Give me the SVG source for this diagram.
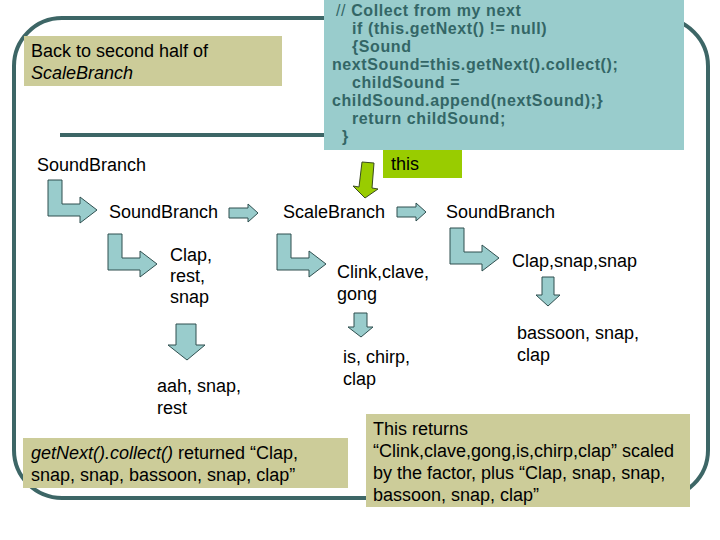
<svg xmlns="http://www.w3.org/2000/svg" width="720" height="540" viewBox="0 0 720 540">
<style>
text{font-family:"Liberation Sans",Arial,sans-serif;font-size:18px;fill:#000}
.code{font-weight:bold;font-size:16px;letter-spacing:0.6px;fill:#336666}
.frame{fill:none;stroke:#3d6666;stroke-width:4}
.arr{fill:#99cccc;stroke:#2f4f4f;stroke-width:1}
.garr{fill:#99cc00;stroke:#3a4a20;stroke-width:1}
.tan{fill:#cccc99}
</style>
<defs>
<polygon id="larrow" points="0,0 14,0 14,24 32,24 32,17 49,30 32,43 32,36 0,36"/>
<polygon id="rarrow" points="0,-5 19,-5 19,-9 29,0 19,9 19,5 0,5"/>
</defs>
<g id="frame">
<rect class="frame" x="14" y="18" width="694" height="480" rx="48" ry="48"/>
<line class="frame" x1="60" y1="135" x2="326" y2="135"/>
</g>
<g id="code-box">
<rect x="324" y="0" width="360" height="150" fill="#99cccc"/>
<text class="code" x="336" y="16"><tspan font-weight="normal">//</tspan> Collect from my next</text>
<text class="code" x="352" y="34">if (this.getNext() != null)</text>
<text class="code" x="352" y="52">{Sound</text>
<text class="code" x="332" y="70">nextSound=this.getNext().collect();</text>
<text class="code" x="352" y="88">childSound =</text>
<text class="code" x="332" y="106">childSound.append(nextSound);}</text>
<text class="code" x="352" y="124">return childSound;</text>
<text class="code" x="342" y="142">}</text>
</g>
<g id="back-note">
<rect class="tan" x="24" y="36" width="258" height="50"/>
<text x="31" y="57">Back to second half of</text>
<text x="31" y="79" font-style="italic">ScaleBranch</text>
</g>
<g id="this-label">
<rect x="383" y="150" width="79" height="28" fill="#99cc00"/>
<text x="391" y="170">this</text>
</g>
<g id="connectors">
<use href="#larrow" class="arr" x="48" y="180"/>
<use href="#larrow" class="arr" x="108" y="234"/>
<use href="#larrow" class="arr" x="277" y="234"/>
<use href="#larrow" class="arr" x="450" y="228"/>
<use href="#rarrow" class="arr" x="229" y="213"/>
<use href="#rarrow" class="arr" x="397" y="212"/>
<polygon class="arr" points="354,313 367,313 367,327 373,327 361,337 348,327 354,327"/>
<polygon class="arr" points="542,277 554,277 554,295 560,295 548,306 536,295 542,295"/>
<polygon class="arr" points="176,324 196,324 196,345 205,345 187,360 168,345 176,345"/>
<polygon class="garr" points="362,162 374,163 372,188 378,189 365,198 353,186 359,187"/>
</g>
<g id="sb1"><text x="37" y="171">SoundBranch</text></g>
<g id="sb2"><text x="109" y="218">SoundBranch</text></g>
<g id="scale"><text x="283" y="218">ScaleBranch</text></g>
<g id="sb3"><text x="446" y="218">SoundBranch</text></g>
<g id="clap-rest-snap"><text x="170" y="261">Clap,</text><text x="170" y="282">rest,</text><text x="170" y="303">snap</text></g>
<g id="clink"><text x="337" y="278">Clink,clave,</text><text x="337" y="300">gong</text></g>
<g id="clap-snap-snap"><text x="512" y="267">Clap,snap,snap</text></g>
<g id="is-chirp"><text x="343" y="363">is, chirp,</text><text x="343" y="385">clap</text></g>
<g id="bassoon"><text x="517" y="339">bassoon, snap,</text><text x="517" y="361">clap</text></g>
<g id="aah"><text x="157" y="392">aah, snap,</text><text x="157" y="414">rest</text></g>
<g id="returned-note">
<rect class="tan" x="23" y="438" width="325" height="50"/>
<text x="31" y="459"><tspan font-style="italic">getNext().collect()</tspan> returned “Clap,</text>
<text x="31" y="481">snap, snap, bassoon, snap, clap”</text>
</g>
<g id="returns-note">
<rect class="tan" x="366" y="414" width="324" height="93"/>
<text x="373" y="435">This returns</text>
<text x="373" y="457">“Clink,clave,gong,is,chirp,clap” scaled</text>
<text x="373" y="479">by the factor, plus “Clap, snap, snap,</text>
<text x="373" y="501">bassoon, snap, clap”</text>
</g>
</svg>
